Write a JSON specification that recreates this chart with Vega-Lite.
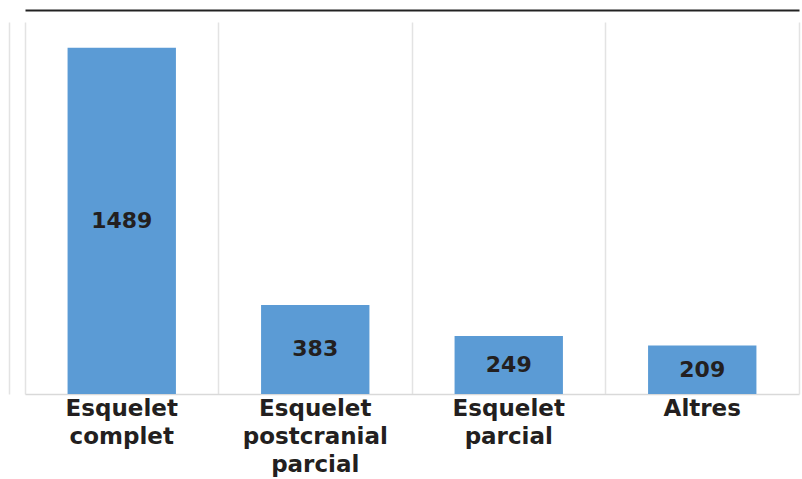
{
  "$schema": "https://vega.github.io/schema/vega-lite/v6.json",
  "width": 774,
  "height": 372,
  "autosize": {"type": "none"},
  "padding": {"left": 25, "top": 22, "right": 3, "bottom": 85},
  "background": "white",
  "config": {"view": {"stroke": null}, "font": "DejaVu Sans"},
  "data": {"values": [
    {"categoria": "Esquelet complet", "n": 1489},
    {"categoria": "Esquelet postcranial parcial", "n": 383},
    {"categoria": "Esquelet parcial", "n": 249},
    {"categoria": "Altres", "n": 209}
  ]},
  "layer": [
    {
      "mark": {"type": "bar", "color": "#5b9bd5", "width": {"band": 0.56}},
      "encoding": {
        "x": {"field": "categoria", "type": "nominal", "sort": null,
          "scale": {"paddingInner": 0, "paddingOuter": 0},
          "axis": {"orient": "bottom", "title": null, "labelAngle": 0, "labelFontSize": 23, "labelFontWeight": "bold",
            "labelColor": "#231f20", "labelExpr": "split(datum.label, ' ')", "labelLineHeight": 28,
            "labelPadding": 3, "labelBaseline": "top", "ticks": false, "domainColor": "#d9d9d9", "domainWidth": 1.5,
            "grid": true, "bandPosition": 0, "gridColor": "#e3e3e3", "gridWidth": 1.5}},
        "y": {"field": "n", "type": "quantitative", "scale": {"domain": [0, 1600]},
          "axis": {"title": null, "labels": false, "ticks": false, "grid": false, "offset": 16,
            "domainColor": "#e3e3e3", "domainWidth": 1.5}}
      }
    },
    {
      "mark": {"type": "text", "fontSize": 22, "fontWeight": "bold", "color": "#231f20", "baseline": "middle"},
      "encoding": {
        "x": {"field": "categoria", "type": "nominal", "sort": null,
          "axis": {"orient": "top", "title": null, "labels": false, "ticks": false, "grid": false,
            "offset": 12, "domainColor": "#222222", "domainWidth": 2}},
        "y": {"field": "n", "type": "quantitative", "scale": {"domain": [0, 3200]},
          "axis": {"orient": "right", "title": null, "labels": false, "ticks": false, "grid": false,
            "domainColor": "#e3e3e3", "domainWidth": 1.5}},
        "text": {"field": "n", "type": "quantitative"}
      }
    }
  ],
  "resolve": {"scale": {"y": "independent"}, "axis": {"x": "independent"}}
}
